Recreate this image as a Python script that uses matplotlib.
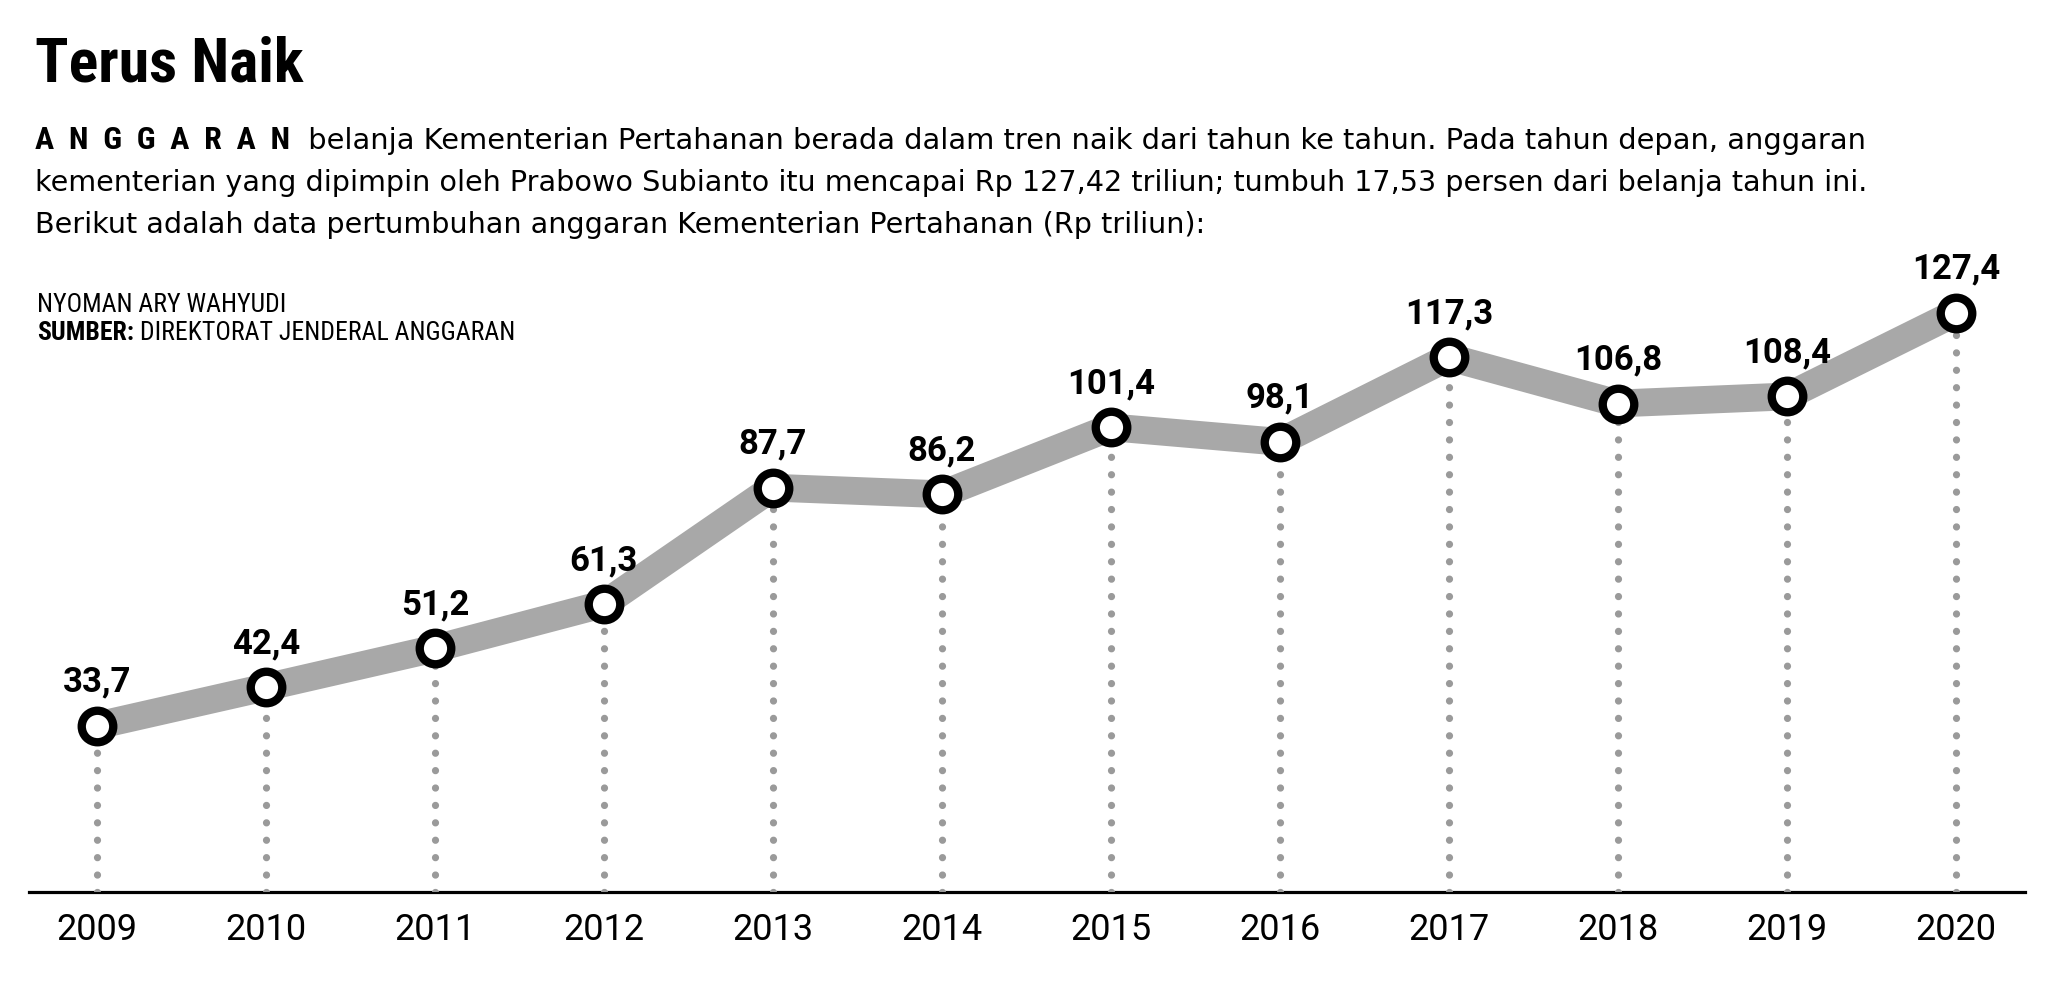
import matplotlib
matplotlib.use("Agg")
import matplotlib.pyplot as plt

# data (Rp triliun)
years = [2009, 2010, 2011, 2012, 2013, 2014, 2015, 2016, 2017, 2018, 2019, 2020]
values = [33.7, 42.4, 51.2, 61.3, 87.7, 86.2, 101.4, 98.1, 117.3, 106.8, 108.4, 127.4]
labels = ["33,7", "42,4", "51,2", "61,3", "87,7", "86,2", "101,4", "98,1",
          "117,3", "106,8", "108,4", "127,4"]

title = "Terus Naik"
lead = "A  N  G  G  A  R  A  N"
line1 = "belanja Kementerian Pertahanan berada dalam tren naik dari tahun ke tahun. Pada tahun depan, anggaran"
line2 = "kementerian yang dipimpin oleh Prabowo Subianto itu mencapai Rp 127,42 triliun; tumbuh 17,53 persen dari belanja tahun ini."
line3 = "Berikut adalah data pertumbuhan anggaran Kementerian Pertahanan (Rp triliun):"
author = "NYOMAN ARY WAHYUDI"
source_lbl = "SUMBER:"
source = " DIREKTORAT JENDERAL ANGGARAN"

COND = ["Roboto Condensed", "Liberation Sans Narrow", "DejaVu Sans"]
BODY = ["DejaVu Sans"]
NUM = ["Roboto", "DejaVu Sans"]
plt.rcParams["font.family"] = COND

W, H = 2055, 995
fig = plt.figure(figsize=(W / 100, H / 100), dpi=100)
fig.patch.set_facecolor("white")

# axes: bottom spine is the baseline
ymin = -4.07
ax = fig.add_axes([29 / W, 1 - 893 / H, 1996 / W, 643 / H])
ax.set_xlim(2008.598, 2020.409)
ax.set_ylim(ymin, ymin + 643 / 4.406)
for s in ["top", "left", "right"]:
    ax.spines[s].set_visible(False)
ax.spines["bottom"].set_linewidth(2.3)
ax.spines["bottom"].set_color("black")
ax.spines["bottom"].set_zorder(0.5)
ax.set_yticks([])
ax.set_xticks(years)
ax.set_xticklabels([str(y) for y in years], fontsize=26, family=NUM)
ax.tick_params(axis="x", length=0, pad=14)

# dotted drop lines
ax.vlines(years, ymin, values, colors="#9a9a9a", linewidth=5.2,
          linestyles=(0, (0.01, 2.4)), capstyle="round", zorder=1)

# grey band + ring markers
ax.plot(years, values, color="#a8a8a8", linewidth=20, solid_joinstyle="miter",
        solid_capstyle="butt", zorder=2)
ax.plot(years, values, linestyle="none", marker="o", markersize=22.7,
        markerfacecolor="white", markeredgecolor="black", markeredgewidth=6,
        zorder=3)

for x, v, t in zip(years, values, labels):
    ax.annotate(t, (x, v), xytext=(0, 32), textcoords="offset points",
                ha="center", va="center", fontsize=25, fontweight="bold",
                family=NUM)

# header texts
fig.text(35 / W, 1 - 82 / H, title, fontsize=44.5, fontweight="black", va="baseline")
t1 = fig.text(35 / W, 1 - 149 / H, lead, fontsize=23, fontweight="black", va="baseline")
ax.annotate("  " + line1, xy=(1, 0), xycoords=t1, xytext=(0, 0),
            textcoords="offset points", fontsize=20.8, va="bottom",
            family=BODY, annotation_clip=False)
fig.text(35 / W, 1 - 191 / H, line2, fontsize=20.6, va="baseline", family=BODY)
fig.text(35 / W, 1 - 233 / H, line3, fontsize=20.6, va="baseline", family=BODY)

fig.text(37 / W, 1 - 312 / H, author, fontsize=18.5, va="baseline")
t2 = fig.text(37 / W, 1 - 340 / H, source_lbl, fontsize=18.5, fontweight="bold", va="baseline")
ax.annotate(source, xy=(1, 0), xycoords=t2, xytext=(0, 0),
            textcoords="offset points", fontsize=18.5, va="bottom", annotation_clip=False)

fig.savefig("out.png", dpi=100, facecolor="white")
